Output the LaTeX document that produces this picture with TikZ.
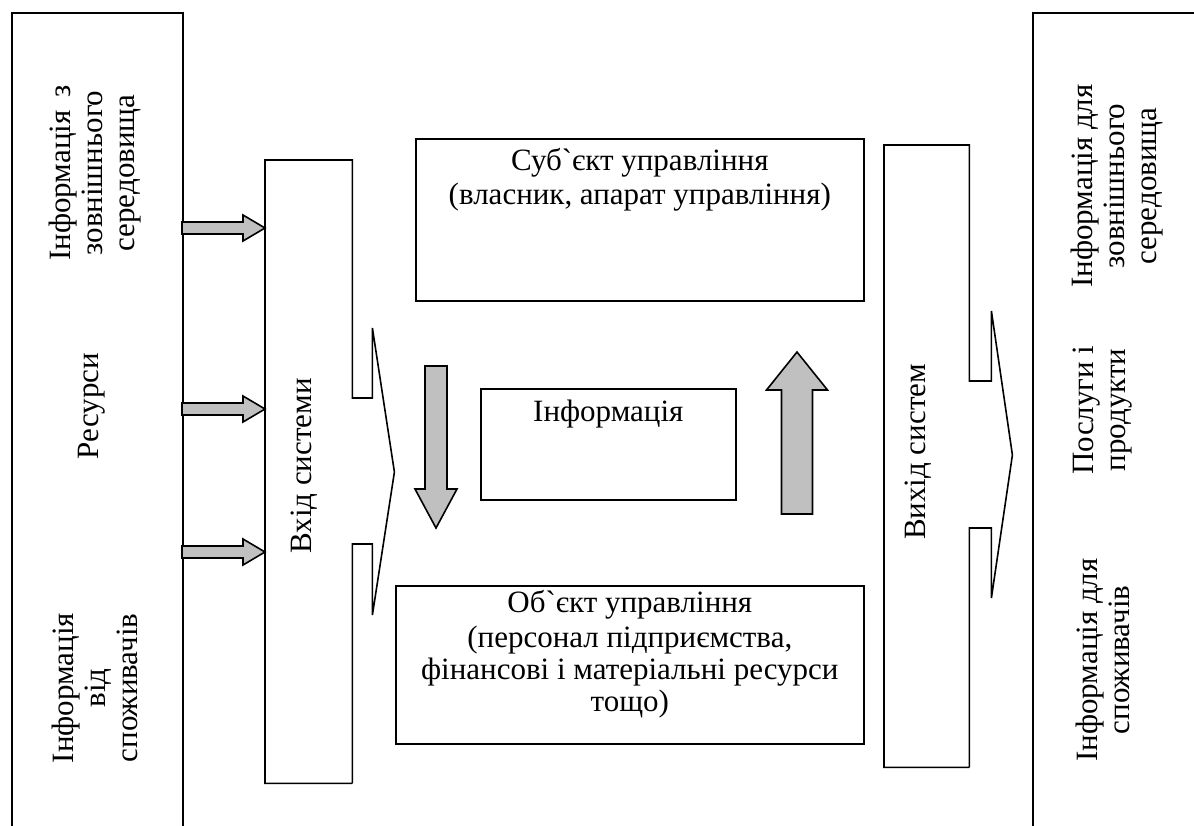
\documentclass[tikz,border=0pt]{standalone}
\usepackage{fontspec}
\setmainfont{Liberation Serif}
\usetikzlibrary{calc}
\definecolor{arrowgray}{HTML}{C0C0C0}

\tikzset{
  box/.style={draw, line width=1.6pt, rectangle, inner sep=0pt},
  hidden/.style={rectangle, inner sep=0pt},
  lbl/.style={align=center, inner sep=0pt, font=\fontsize{31}{32}\selectfont},
  vlbl/.style={lbl, rotate=90},
  garrow/.style={fill=arrowgray, draw, line width=1.6pt, line join=miter},
}

% horizontal block arrow: tail, tip
\newcommand{\rblock}[2]{%
  \filldraw[garrow] ($(#1)+(0,-6)$) -- ($(#2)+(-22,-6)$) -- ($(#2)+(-22,-13)$) -- (#2)
    -- ($(#2)+(-22,13)$) -- ($(#2)+(-22,6)$) -- ($(#1)+(0,6)$) -- cycle;}
% vertical block arrow: tail, tip, shaft half, head half, head offset
\newcommand{\vblock}[5]{%
  \filldraw[garrow] ($(#1)+(-#3,0)$) -- ($(#2)+(-#3,#5)$) -- ($(#2)+(-#4,#5)$) -- (#2)
    -- ($(#2)+(#4,#5)$) -- ($(#2)+(#3,#5)$) -- ($(#1)+(#3,0)$) -- cycle;}

\begin{document}
\begin{tikzpicture}[x=1pt, y=-1pt]
    \useasboundingbox (0,0) rectangle (1194,825);
    \clip (0,0) rectangle (1194,825);

    % Outer boxes (environment)
    \node[box, anchor=north west, minimum width=171pt, minimum height=900pt] (lbox) at (11,12) {};
    \node[box, anchor=north west, minimum width=300pt, minimum height=900pt] (rbox) at (1032,12) {};

    % Left texts
    \node[vlbl] (ext1) at (95,173) {Інформація~\,з\\зовнішнього\\середовища};
    \node[vlbl] (res) at (92,406) {Ресурси};
    \node[vlbl] (cons1) at (95,688) {Інформація\\від\\споживачів};

    % Right texts
    \node[vlbl] (ext2) at (1117,186) {Інформація для\\зовнішнього\\середовища};
    \node[vlbl] (prod) at (1103,410) {Послуги і\\продукти};
    \node[vlbl] (cons2) at (1103,660) {Інформація для\\споживачів};

    % System input with notch
    \node[hidden, anchor=north west, minimum width=87pt, minimum height=623pt] (in) at (265,160) {};
    \draw[line width=1.6pt] (in.south east) -- (in.south west) -- (in.north west) -- (in.north east)
      -- ++(0,238) -- ++(20,0) -- ++(0,-70) -- ++(22,144) -- ++(-22,143) -- ++(0,-71) -- ++(-20,0)
      -- (in.south east);
    \node[vlbl] (intxt) at (304,466) {Вхід системи};

    % System output with notch
    \node[hidden, anchor=north west, minimum width=85pt, minimum height=622pt] (out) at (884,145) {};
    \draw[line width=1.6pt] (out.south east) -- (out.south west) -- (out.north west) -- (out.north east)
      -- ++(0,236) -- ++(22,0) -- ++(0,-70) -- ++(21,144) -- ++(-21,143) -- ++(0,-70) -- ++(-22,0)
      -- (out.south east);
    \node[vlbl] (outtxt) at (918,452) {Вихід систем};

    % Management boxes
    \node[box, anchor=north west, minimum width=448pt, minimum height=162pt] (subj) at (415,138) {};
    \node[lbl] (subjtxt) at ($(subj.north)+(0,42)$) {Суб\textasciigrave єкт управління\\[2pt](власник, апарат управління)};

    \node[box, anchor=north west, minimum width=255pt, minimum height=111pt] (info) at (480,388) {};
    \node[lbl] (infotxt) at ($(info.north)+(0,26)$) {Інформація};

    \node[box, anchor=north west, minimum width=468pt, minimum height=158pt] (obj) at (395,585) {};
    \node[lbl] (objtxt) at ($(obj.north)+(0,69)$) {Об\textasciigrave єкт управління\\[3pt](персонал підприємства,\\фінансові і матеріальні ресурси\\тощо)};

    % Inputs to the system
    \foreach \yy in {228,409,552} {
        \coordinate (src) at (182,\yy);
        \coordinate (dst) at (in.west |- src);
        \rblock{src}{dst}
    }

    % Information flows
    \coordinate (dtail) at (436,366);
    \coordinate (dtip) at (436,528);
    \vblock{dtail}{dtip}{11}{21}{-39}
    \coordinate (utail) at (797,514);
    \coordinate (utip) at (797,352);
    \vblock{utail}{utip}{15.5}{30.5}{38}
\end{tikzpicture}
\end{document}
